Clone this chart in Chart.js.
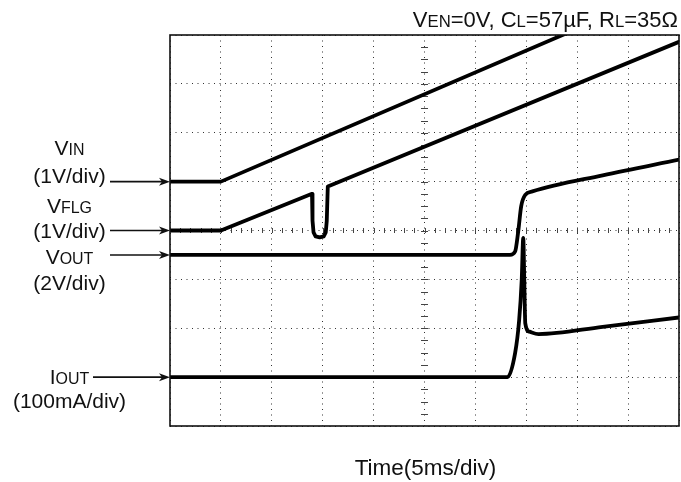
<!DOCTYPE html>
<html lang="en">
<head>
<meta charset="UTF-8">
<title>Startup waveform</title>
<style>
  body { margin: 0; background: #fff; }
  #wrap { width: 681px; height: 482px; }
</style>
</head>
<body>
<div id="wrap"><canvas id="scope" width="681" height="482"></canvas></div>

<script src="https://cdn.jsdelivr.net/npm/chart.js"></script>
<script>
// time in divisions (5ms/div), levels in divisions from the bottom of the screen
const vinTime  = [0, 1, 7.78];
const vinLevel = [5, 5, 8.03];

const flgTime  = [0, 1, 2.79, 2.80, 2.82, 2.86, 2.94, 3.02, 3.06, 3.08, 3.10, 10];
const flgLevel = [4, 4, 4.75, 4.2, 3.96, 3.88, 3.86, 3.88, 3.96, 4.2, 4.9, 7.86];

const voutTime  = [0, 6.68, 6.78, 6.84, 6.90, 6.98, 7.12, 8.5, 10];
const voutLevel = [3.5, 3.5, 3.57, 3.97, 4.5, 4.73, 4.8, 5.13, 5.45];

const ioutTime  = [0, 6.63, 6.78, 6.86, 6.91, 6.94, 6.96, 6.98, 7.06, 7.24, 8.5, 10];
const ioutLevel = [1, 1, 1.49, 2.17, 2.99, 3.85, 3.0, 2.1, 1.93, 1.88, 2.03, 2.22];

const xDivs = 10;
const yDivs = 8;

const FONT = '"Liberation Sans", Arial, Helvetica, sans-serif';

function pts(xs, ys) {
    return xs.map((v, i) => ({x: v, y: ys[i]}));
}

function trace(xs, ys, smooth) {
    return {
        data: pts(xs, ys),
        borderColor: '#000',
        borderWidth: 3.8,
        borderJoinStyle: 'round',
        borderCapStyle: 'round',
        pointRadius: 0,
        tension: 0,
        cubicInterpolationMode: smooth ? 'monotone' : 'default',
    };
}

// text with small capital subscripts, e.g. V + "IN"
function drawCaps(ctx, parts, x, y, size, align) {
    const widths = parts.map(([t, small]) => {
        ctx.font = (small ? size * 0.76 : size) + 'px ' + FONT;
        return ctx.measureText(t).width;
    });
    const total = widths.reduce((a, b) => a + b, 0);
    let pos = align === 'right' ? x - total : align === 'center' ? x - total / 2 : x;
    ctx.textAlign = 'left';
    ctx.textBaseline = 'alphabetic';
    parts.forEach(([t, small], i) => {
        ctx.font = (small ? size * 0.76 : size) + 'px ' + FONT;
        ctx.fillText(t, pos, y);
        pos += widths[i];
    });
}

function arrow(ctx, x0, x1, y) {
    ctx.beginPath();
    ctx.moveTo(x0, y);
    ctx.lineTo(x1 - 8, y);
    ctx.lineWidth = 1.6;
    ctx.stroke();
    ctx.beginPath();
    ctx.moveTo(x1, y);
    ctx.lineTo(x1 - 11, y - 4);
    ctx.lineTo(x1 - 8, y);
    ctx.lineTo(x1 - 11, y + 4);
    ctx.closePath();
    ctx.fill();
}

const scopeDecor = {
    id: 'scopeDecor',
    beforeDatasetsDraw(chart) {
        const {ctx, scales: {x, y}} = chart;
        const cx = x.getPixelForValue(xDivs / 2);
        const cy = y.getPixelForValue(yDivs / 2);
        ctx.save();
        ctx.strokeStyle = '#444';
        ctx.lineWidth = 1;
        ctx.beginPath();
        // minor ticks on the centre axes
        for (let i = 1; i < xDivs * 5; i++) {
            const px = Math.round(x.getPixelForValue(i / 5)) + 0.5;
            ctx.moveTo(px, cy - 2.5);
            ctx.lineTo(px, cy + 2.5);
        }
        for (let i = 1; i < yDivs * 4; i++) {
            const py = Math.round(y.getPixelForValue(i / 4)) + 0.5;
            ctx.moveTo(cx - 3.5, py);
            ctx.lineTo(cx + 3.5, py);
        }
        ctx.stroke();
        ctx.restore();
    },
    afterDatasetsDraw(chart) {
        const {ctx, chartArea: a} = chart;
        ctx.save();
        ctx.strokeStyle = '#111';
        ctx.lineWidth = 1.6;
        ctx.strokeRect(a.left, a.top, a.right - a.left, a.bottom - a.top);
        ctx.restore();
    },
    afterDraw(chart) {
        const {ctx, chartArea: a, scales: {y}} = chart;
        ctx.save();
        ctx.fillStyle = '#111';
        ctx.strokeStyle = '#111';

        const size = 21;
        const mid = 69.5;

        drawCaps(ctx, [['V'], ['IN', 1]], mid, 155, size, 'center');
        drawCaps(ctx, [['(1V/div)']], mid, 183, size, 'center');
        drawCaps(ctx, [['V'], ['FLG', 1]], mid, 213, size, 'center');
        drawCaps(ctx, [['(1V/div)']], mid, 238, size, 'center');
        drawCaps(ctx, [['V'], ['OUT', 1]], mid, 264, size, 'center');
        drawCaps(ctx, [['(2V/div)']], mid, 290, size, 'center');
        drawCaps(ctx, [['I'], ['OUT', 1]], mid, 384, size, 'center');
        drawCaps(ctx, [['(100mA/div)']], mid, 408, size, 'center');

        arrow(ctx, 110, a.left, y.getPixelForValue(vinLevel[0]));
        arrow(ctx, 110, a.left, y.getPixelForValue(flgLevel[0]));
        arrow(ctx, 110, a.left, y.getPixelForValue(voutLevel[0]));
        arrow(ctx, 93, a.left, y.getPixelForValue(ioutLevel[0]));

        drawCaps(ctx, [['V'], ['EN', 1], ['=0V, C'], ['L', 1], ['=57\u00B5F, R'], ['L', 1], ['=35\u03A9']],
            678, 27, 22, 'right');

        drawCaps(ctx, [['Time(5ms/div)']], 425.5, 475, 22.5, 'center');
        ctx.restore();
    }
};

const gridAxis = (max, horizontal) => ({
    type: 'linear',
    min: 0,
    max: max,
    ticks: {display: false, stepSize: 1},
    grid: {color: '#333', lineWidth: 1, drawTicks: false},
    border: {display: false, dash: [1, 4.5]},
    afterFit(scale) {
        if (horizontal) scale.height = 0;
        else scale.width = 0;
    }
});

new Chart(document.getElementById('scope'), {
    type: 'line',
    data: {
        datasets: [
            trace(vinTime, vinLevel, false),
            trace(flgTime, flgLevel, false),
            trace(voutTime, voutLevel, true),
            trace(ioutTime, ioutLevel, true),
        ]
    },
    options: {
        responsive: false,
        animation: false,
        events: [],
        layout: {padding: {left: 170, top: 35, right: 2, bottom: 56}},
        plugins: {legend: {display: false}, tooltip: {enabled: false}},
        scales: {
            x: gridAxis(xDivs, true),
            y: gridAxis(yDivs, false),
        }
    },
    plugins: [scopeDecor]
});
</script>
</body>
</html>
